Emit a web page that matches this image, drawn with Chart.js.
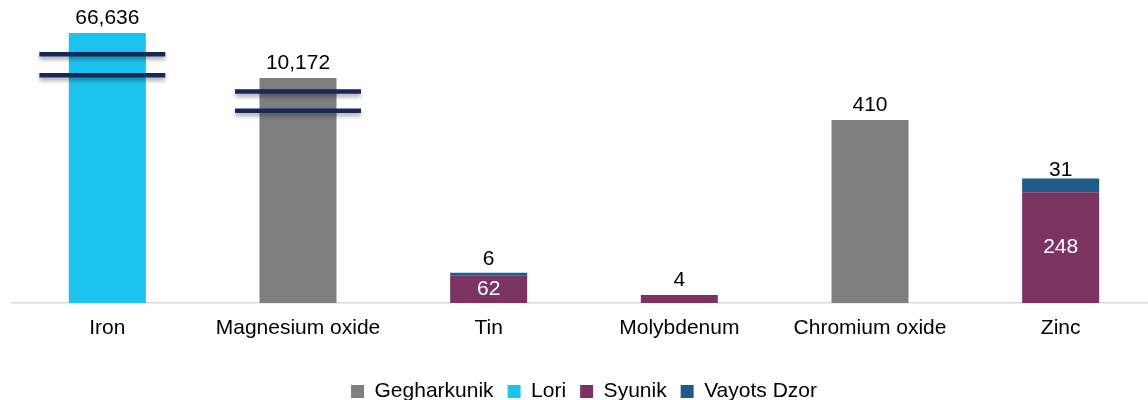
<!DOCTYPE html>
<html>
<head>
<meta charset="utf-8">
<title>Mineral output by region</title>
<script src="https://cdn.jsdelivr.net/npm/chart.js@4.4.1/dist/chart.umd.min.js"></script>
<style>
  html, body { margin: 0; padding: 0; background: #fff; overflow: hidden; }
  #wrap { width: 1148px; height: 400px; overflow: hidden; }
  #chart { display: block; }
</style>
</head>
<body>
<div id="wrap"><canvas id="chart" width="1160" height="412"></canvas></div>
<script>
const categories = ["Iron", "Magnesium oxide", "Tin", "Molybdenum", "Chromium oxide", "Zinc"];
const gegharkunik = [null, 10172, null, null, 410, null];
const lori = [66636, null, null, null, null, null];
const syunik = [null, null, 62, 4, null, 248];
const vayotsDzor = [null, null, 6, null, null, 31];

// value axis runs linear up to the break, then gets squeezed hard
const axisBreakAt = 487;
const axisSqueeze = 0.001787;
const axisMax = 108000;

// double strokes marking the cut on the two tall bars (axis values)
const breakMarks = [
    { index: 0, values: [40000, 13600], shift: -5 },
    { index: 1, values: [474, 431], shift: 0 }
];

const FONT = '"Liberation Sans", Arial, sans-serif';
Chart.defaults.font.family = FONT;
Chart.defaults.font.size = 21;
Chart.defaults.color = "#000";

function squeeze(v) {
    return v <= axisBreakAt ? v : axisBreakAt + (v - axisBreakAt) * axisSqueeze;
}

function unsqueeze(h) {
    return h <= axisBreakAt ? h : axisBreakAt + (h - axisBreakAt) / axisSqueeze;
}

class BrokenScale extends Chart.LinearScale {
    getPixelForValue(value) {
        if (value === null || isNaN(value)) return NaN;
        const lo = squeeze(this.min);
        const hi = squeeze(this.max);
        return this.getPixelForDecimal((squeeze(value) - lo) / (hi - lo));
    }
    getValueForPixel(pixel) {
        const lo = squeeze(this.min);
        const hi = squeeze(this.max);
        return unsqueeze(lo + this.getDecimalForPixel(pixel) * (hi - lo));
    }
}
BrokenScale.id = "broken";
BrokenScale.defaults = { ...Chart.LinearScale.defaults };
Chart.register(BrokenScale);

const axisBreaks = {
    id: "axisBreaks",
    afterDatasetsDraw(chart) {
        const ctx = chart.ctx;
        const xs = chart.scales.x;
        const ys = chart.scales.y;
        ctx.save();
        ctx.strokeStyle = "#15295b";
        ctx.lineWidth = 4.5;
        ctx.shadowColor = "rgba(0, 0, 0, 0.35)";
        ctx.shadowBlur = 4;
        ctx.shadowOffsetY = 3;
        breakMarks.forEach((mark) => {
            const cx = xs.getPixelForValue(mark.index) + mark.shift;
            mark.values.forEach((v) => {
                const py = ys.getPixelForValue(v);
                ctx.beginPath();
                ctx.moveTo(cx - 63, py);
                ctx.lineTo(cx + 63, py);
                ctx.stroke();
            });
        });
        ctx.restore();
    }
};

const valueLabels = {
    id: "valueLabels",
    afterDatasetsDraw(chart) {
        const ctx = chart.ctx;
        ctx.save();
        ctx.font = "21px " + FONT;
        ctx.textAlign = "center";
        ctx.textBaseline = "middle";
        chart.data.datasets.forEach((ds, di) => {
            const meta = chart.getDatasetMeta(di);
            meta.data.forEach((bar, i) => {
                const v = ds.data[i];
                if (v === null) return;
                const h = bar.base - bar.y;
                let y = bar.y - 15;
                let color = "#000";
                if (ds.labelInside && h > 24) {
                    y = (bar.y + bar.base) / 2;
                    color = "#fff";
                } else if (ds.labelLifted) {
                    y = (bar.y + bar.base) / 2 - 15;
                }
                ctx.fillStyle = color;
                ctx.fillText(v.toLocaleString("en-US"), bar.x, y);
            });
        });
        ctx.restore();
    }
};

new Chart(document.getElementById("chart"), {
    type: "bar",
    data: {
        labels: categories,
        datasets: [
            { label: "Gegharkunik", data: gegharkunik, backgroundColor: "#7f7f7f" },
            { label: "Lori", data: lori, backgroundColor: "#1cc3ee" },
            { label: "Syunik", data: syunik, backgroundColor: "#7b3461", minBarLength: 8, labelInside: true },
            { label: "Vayots Dzor", data: vayotsDzor, backgroundColor: "#1e5b8b", labelLifted: true }
        ]
    },
    options: {
        responsive: false,
        animation: false,
        layout: { padding: { left: 12, right: 4, top: 0, bottom: 0 } },
        datasets: {
            bar: { categoryPercentage: 1, barPercentage: 0.404, borderWidth: 0 }
        },
        scales: {
            x: {
                stacked: true,
                grid: { display: false, drawTicks: false },
                border: { display: true, color: "#d9d9d9", width: 1.5 },
                ticks: { padding: 13, maxRotation: 0, color: "#000" },
                afterFit(scale) { scale.height = 64; }
            },
            y: {
                type: "broken",
                stacked: true,
                display: false,
                min: 0,
                max: axisMax
            }
        },
        plugins: {
            legend: {
                position: "bottom",
                labels: { boxWidth: 13, boxHeight: 13, padding: 14, color: "#000" }
            },
            tooltip: { enabled: false }
        }
    },
    plugins: [axisBreaks, valueLabels]
});
</script>
</body>
</html>
